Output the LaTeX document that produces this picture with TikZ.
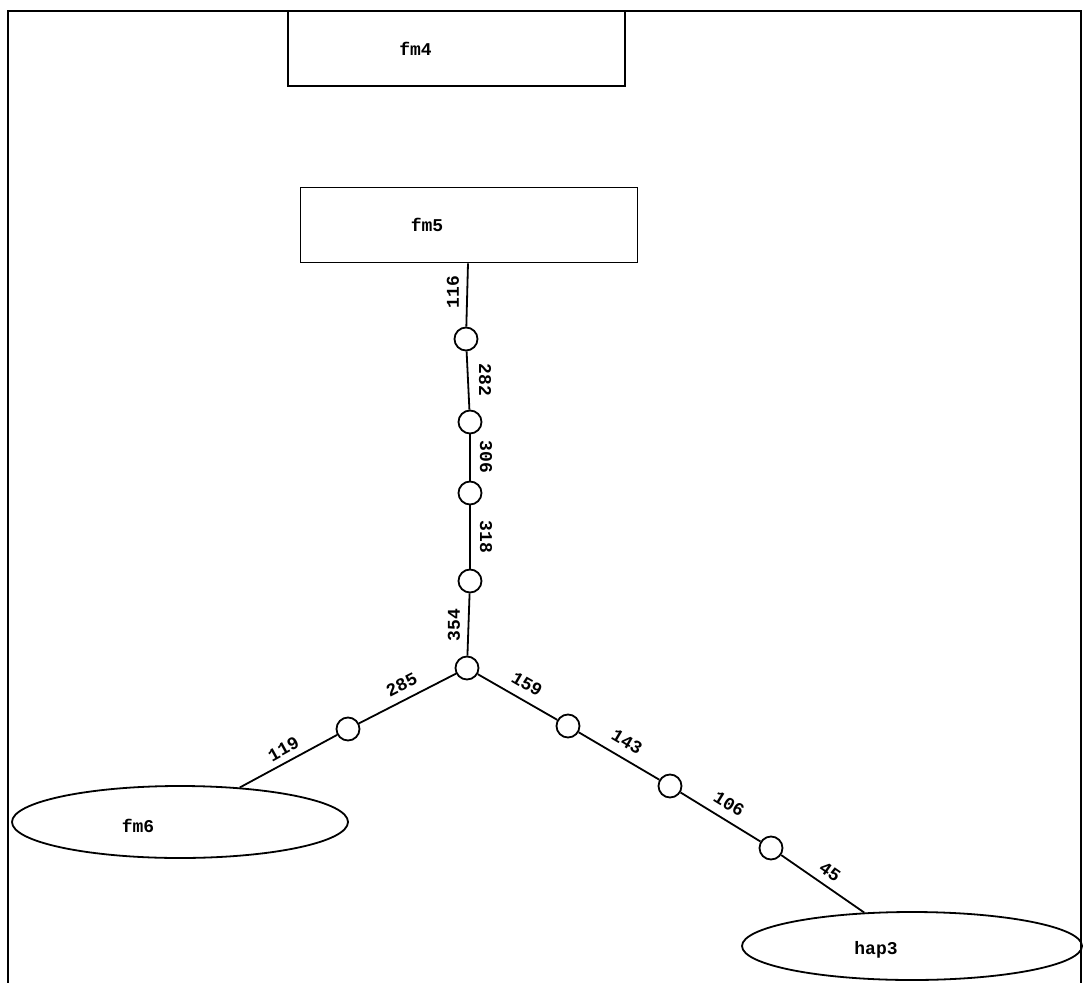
\documentclass[tikz,border=0pt]{standalone}
\usepackage{fontspec}
\setmonofont{Liberation Mono}
\usetikzlibrary{shapes.geometric}
\begin{document}
\begin{tikzpicture}[x=0.5pt,y=-0.5pt,
  txt/.style={font=\ttfamily\bfseries\fontsize{9}{10}\selectfont, inner sep=0pt},
  boxnode/.style={draw, line width=0.8pt, rectangle, minimum width=168.5pt, minimum height=37.5pt, inner sep=0pt},
  ellnode/.style={draw, line width=0.9pt, ellipse, minimum width=168pt, minimum height=36pt, inner sep=0pt},
  dot/.style={draw, line width=0.9pt, circle, fill=white, minimum size=11.5pt, inner sep=0pt},
  conn/.style={line width=0.9pt},
  lab/.style={txt}]
\useasboundingbox (0,0) rectangle (1085,983);
% frame
\coordinate (fbl) at (8,983);
\coordinate (ftl) at (8,11);
\coordinate (ftr) at (1081,11);
\coordinate (fbr) at (1081,983);
\draw[line width=1.1pt] (fbl) -- (ftl) -- (ftr) -- (fbr);
% boxes
\node[boxnode, label={[txt, xshift=-20.5pt]center:fm4}] (fm4) at (456.5,48.5) {};
\node[boxnode, label={[txt, xshift=-21pt]center:fm5}] (fm5) at (469,225) {};
% ellipses
\node[ellnode, label={[txt, xshift=-21pt, yshift=-2pt]center:fm6}] (fm6) at (180,822) {};
\node[ellnode, minimum width=170pt, minimum height=34pt, label={[txt, xshift=-18pt, yshift=-2pt]center:hap3}] (hap3) at (912,946) {};
% circles
\node[dot] (c1) at (466,339) {};
\node[dot] (c2) at (470,422) {};
\node[dot] (c3) at (470,493) {};
\node[dot] (c4) at (470,581) {};
\node[dot] (c5) at (467,668) {};
\node[dot] (c6) at (348,729) {};
\node[dot] (c7) at (568,726) {};
\node[dot] (c8) at (670,786) {};
\node[dot] (c9) at (771,848) {};
% connectors
\draw[conn] (fm5) -- (c1);
\draw[conn] (c1) -- (c2);
\draw[conn] (c2) -- (c3);
\draw[conn] (c3) -- (c4);
\draw[conn] (c4) -- (c5);
\draw[conn] (c5) -- (c6);
\draw[conn] (c6) -- (fm6.30);
\draw[conn] (c5) -- (c7);
\draw[conn] (c7) -- (c8);
\draw[conn] (c8) -- (c9);
\draw[conn] (c9) -- (hap3.145);
% labels
\node[lab, rotate=90] (l116) at (453,292) {116};
\node[lab, rotate=-90] (l282) at (485,380) {282};
\node[lab, rotate=-90] (l306) at (486,457) {306};
\node[lab, rotate=-90] (l318) at (486,537) {318};
\node[lab, rotate=90] (l354) at (454,625) {354};
\node[lab, rotate=27] (l285) at (401.5,685) {285};
\node[lab, rotate=29] (l119) at (283.5,749) {119};
\node[lab, rotate=-30] (l159) at (527,684) {159};
\node[lab, rotate=-30.5] (l143) at (627,742) {143};
\node[lab, rotate=-31.5] (l106) at (729,804) {106};
\node[lab, rotate=-35] (l45) at (830,872) {45};
\end{tikzpicture}
\end{document}
